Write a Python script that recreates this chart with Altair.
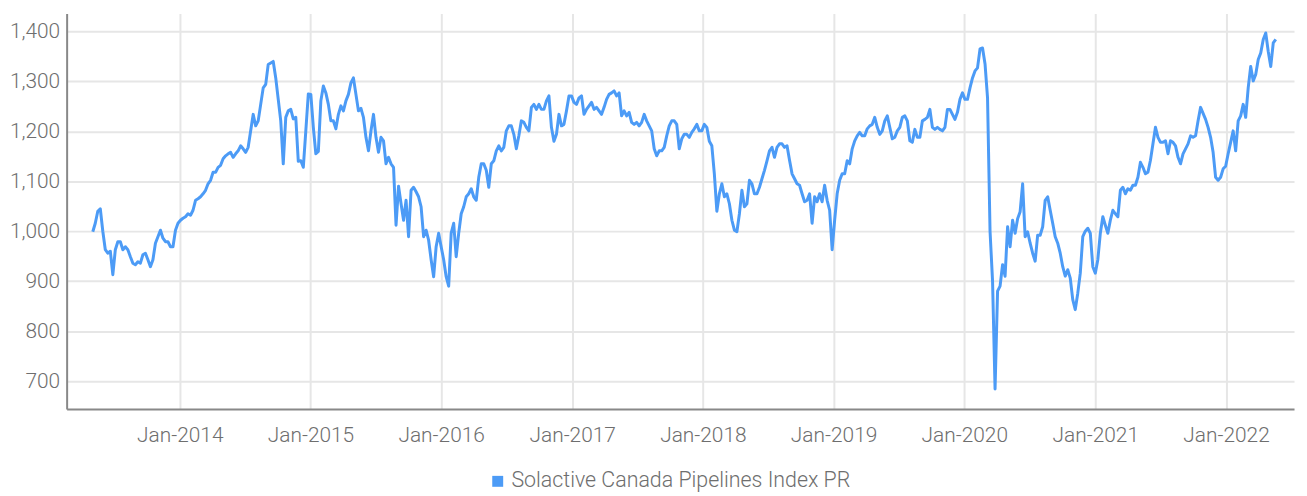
import altair as alt
import pandas as pd

# ---- data (weekly readings) ----
start_date = "2013-05-03"
step = "7D"
values = [
    999, 1016, 1040, 1045, 1000, 963, 956, 960, 913, 963,
    979, 979, 963, 969, 963, 949, 936, 933, 939, 936,
    953, 956, 943, 929, 943, 976, 989, 1002, 986, 979,
    979, 969, 969, 1002, 1016, 1022, 1026, 1029, 1035, 1032,
    1042, 1062, 1065, 1069, 1075, 1082, 1095, 1102, 1118, 1118,
    1128, 1132, 1145, 1151, 1155, 1158, 1148, 1155, 1161, 1171,
    1165, 1158, 1168, 1201, 1234, 1211, 1221, 1254, 1287, 1294,
    1334, 1337, 1340, 1307, 1264, 1221, 1135, 1228, 1241, 1244,
    1225, 1228, 1140, 1141, 1128, 1201, 1275, 1274, 1208, 1155,
    1160, 1261, 1291, 1277, 1254, 1221, 1221, 1205, 1234, 1251,
    1241, 1261, 1274, 1297, 1307, 1274, 1241, 1246, 1228, 1188,
    1161, 1201, 1234, 1188, 1158, 1188, 1181, 1135, 1148, 1135,
    1128, 1012, 1090, 1055, 1022, 1062, 989, 1082, 1088, 1079,
    1069, 1049, 989, 1002, 982, 943, 909, 969, 996, 969,
    943, 909, 890, 996, 1016, 949, 996, 1035, 1049, 1069,
    1075, 1085, 1069, 1062, 1108, 1135, 1135, 1122, 1088, 1135,
    1141, 1161, 1171, 1161, 1168, 1201, 1211, 1211, 1194, 1165,
    1191, 1221, 1218, 1208, 1201, 1248, 1254, 1244, 1254, 1244,
    1244, 1261, 1271, 1208, 1180, 1194, 1234, 1211, 1214, 1241,
    1271, 1271, 1258, 1254, 1267, 1271, 1234, 1244, 1251, 1258,
    1244, 1248, 1241, 1234, 1248, 1264, 1274, 1277, 1281, 1271,
    1277, 1231, 1241, 1231, 1238, 1218, 1214, 1218, 1211, 1218,
    1234, 1221, 1211, 1201, 1165, 1151, 1161, 1161, 1168, 1191,
    1211, 1221, 1221, 1214, 1165, 1185, 1194, 1194, 1188, 1198,
    1205, 1214, 1201, 1201, 1214, 1208, 1180, 1171, 1115, 1040,
    1075, 1095, 1069, 1075, 1055, 1022, 1002, 999, 1035, 1082,
    1049, 1055, 1102, 1095, 1075, 1075, 1088, 1105, 1122, 1141,
    1161, 1168, 1148, 1168, 1175, 1175, 1168, 1171, 1142, 1115,
    1105, 1095, 1092, 1075, 1059, 1062, 1075, 1016, 1069, 1059,
    1075, 1059, 1092, 1062, 1042, 963, 1022, 1075, 1102, 1115,
    1115, 1141, 1135, 1165, 1181, 1191, 1198, 1191, 1191, 1205,
    1211, 1214, 1228, 1208, 1194, 1201, 1221, 1231, 1208, 1185,
    1188, 1201, 1208, 1228, 1231, 1221, 1181, 1178, 1204, 1188,
    1188, 1221, 1224, 1228, 1244, 1208, 1204, 1208, 1204, 1201,
    1208, 1244, 1244, 1234, 1224, 1238, 1264, 1277, 1264, 1264,
    1287, 1307, 1321, 1327, 1365, 1367, 1335, 1267, 1000, 900,
    684, 880, 890, 933, 910, 1009, 969, 1022, 996, 1025,
    1039, 1095, 989, 999, 976, 956, 940, 992, 992, 1009,
    1062, 1069, 1042, 1016, 989, 976, 956, 929, 910, 923,
    906, 863, 843, 876, 916, 989, 1000, 1006, 996, 929,
    916, 943, 996, 1029, 1012, 996, 1022, 1042, 1035, 1029,
    1082, 1088, 1075, 1085, 1082, 1092, 1092, 1108, 1138, 1128,
    1115, 1118, 1142, 1175, 1208, 1188, 1178, 1178, 1181, 1155,
    1181, 1178, 1171, 1148, 1135, 1155, 1165, 1175, 1191, 1188,
    1191, 1221, 1248, 1236, 1224, 1208, 1188, 1158, 1108, 1102,
    1108, 1125, 1130, 1155, 1178, 1201, 1161, 1221, 1231, 1254,
    1228, 1287, 1330, 1301, 1314, 1344, 1357, 1384, 1397, 1360,
    1330, 1377, 1384,
]
series_name = "Solactive Canada Pipelines Index PR"
y_ticks = [700, 800, 900, 1000, 1100, 1200, 1300, 1400]
x_tick_years = [2014, 2015, 2016, 2017, 2018, 2019, 2020, 2021, 2022]

dates = pd.date_range(start_date, periods=len(values), freq=step)
df = pd.DataFrame({
    "date": dates.strftime("%Y-%m-%d"),
    "value": values,
    "series": series_name,
})

BLUE = "#4c9bf6"
FONT = "Roboto"
TEXT = "#6e6e6e"

line = alt.Chart(df).mark_line(strokeWidth=3, strokeJoin="round").encode(
    x=alt.X(
        "date:T",
        scale=alt.Scale(domain=[alt.DateTime(year=2013, month=2, date=19),
                                alt.DateTime(year=2022, month=7, date=10)]),
        axis=alt.Axis(
            values=[alt.DateTime(year=y, month=1, date=1) for y in x_tick_years],
            format="%b-%Y", title=None, labelPadding=16,
        ),
    ),
    y=alt.Y(
        "value:Q",
        scale=alt.Scale(domain=[644, 1436], nice=False, zero=False),
        axis=alt.Axis(values=y_ticks, format=",.0f", title=None, labelPadding=7),
    ),
    color=alt.Color(
        "series:N",
        scale=alt.Scale(range=[BLUE]),
        legend=alt.Legend(
            title=None, orient="none", legendX=423, legendY=460,
            symbolType="square", symbolFillColor=BLUE, symbolStrokeWidth=0,
            symbolSize=121, labelFontSize=21.5, labelFont=FONT, labelColor=TEXT,
            labelFontWeight=300, labelLimit=0,
            padding=0, symbolOffset=0, labelOffset=3,
        ),
    ),
)

chart = line.properties(
    width=1235, height=398,
    padding={"left": 59, "top": 4, "right": 5, "bottom": 86},
    autosize="none",
).configure_view(stroke=None).configure_axis(
    domainColor="#888888", domainWidth=2, ticks=False,
    gridColor="#e6e6e6", gridWidth=2,
    labelFont=FONT, labelFontSize=21, labelFontWeight=300, labelColor=TEXT,
)

chart.save("out.html", embed_options={"renderer": "svg", "actions": False})
